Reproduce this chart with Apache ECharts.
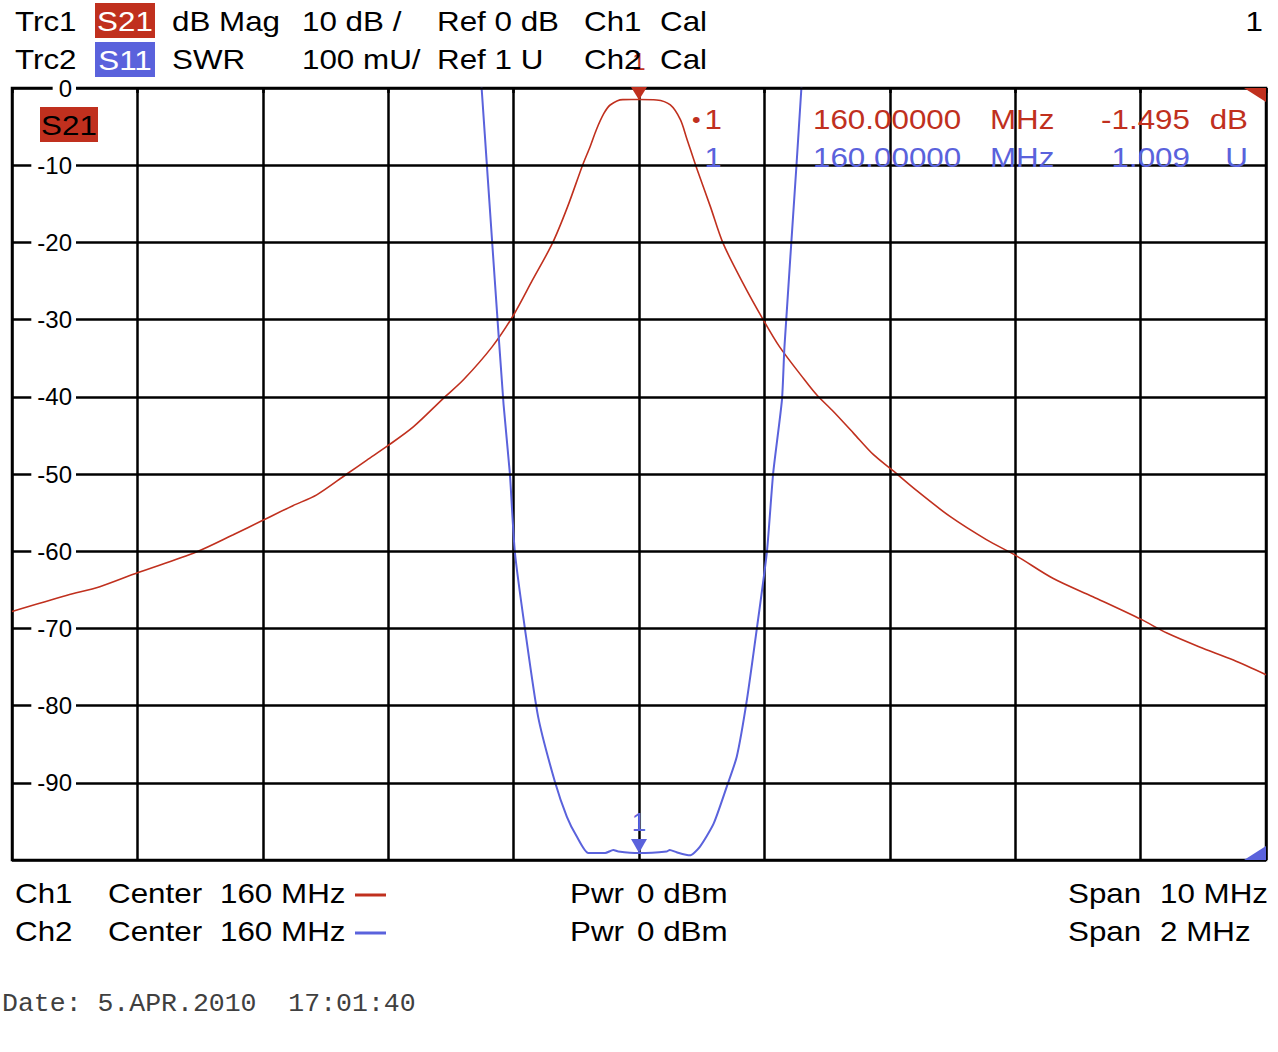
<!DOCTYPE html>
<html>
<head>
<meta charset="utf-8">
<title>S21 / S11</title>
<script src="https://cdn.jsdelivr.net/npm/echarts@6/dist/echarts.min.js"></script>
<style>
  html, body { margin: 0; padding: 0; background: #fff; }
  #container { width: 1278px; height: 1052px; }
</style>
</head>
<body>
<div id="container"></div>
<script>
// Trc1 S21 dB Mag, Ch1 center 160 MHz span 10 MHz
var s21Freq = [155.00, 155.44, 155.70, 156.00, 156.47, 156.76, 157.00, 157.24, 157.43, 157.67,
  157.83, 158.00, 158.20, 158.44, 158.60, 158.83, 159.00, 159.15, 159.31, 159.43,
  159.55, 159.61, 159.66, 159.72, 159.77, 159.87, 160.00, 160.14, 160.25, 160.33,
  160.38, 160.46, 160.57, 160.67, 160.83, 160.99, 161.12, 161.32, 161.42, 161.55,
  161.71, 161.87, 162.02, 162.21, 162.48, 162.77, 163.01, 163.30, 163.62, 164.00,
  164.21, 164.47, 164.74, 165.00];
var s21Db = [-67.8, -65.7, -64.6, -62.8, -60.1, -57.9, -56.0, -54.1, -52.7, -50.0,
  -48.2, -46.3, -43.9, -40.2, -37.8, -33.5, -29.4, -24.9, -20.1, -15.4,
  -10.0, -7.6, -5.4, -3.3, -2.2, -1.5, -1.495, -1.55, -2.2, -4.1,
  -6.5, -10.4, -15.4, -20.1, -25.3, -30.0, -33.5, -37.8, -39.8, -41.9,
  -44.7, -47.5, -49.5, -52.1, -55.5, -58.5, -60.6, -63.5, -65.9, -68.8,
  -70.6, -72.4, -74.1, -76.0];

// Trc2 S11 SWR, Ch2 center 160 MHz span 2 MHz
var s11Freq = [159.732, 159.749, 159.759, 159.770, 159.784, 159.794, 159.802, 159.818, 159.839, 159.866,
  159.885, 159.901, 159.919, 159.946, 159.959, 159.967, 160.000, 160.044, 160.049, 160.060,
  160.081, 160.097, 160.119, 160.140, 160.156, 160.172, 160.188, 160.204, 160.214, 160.228,
  160.232, 160.251, 160.259, 160.275];
var s11Swr = [2.2, 2.0, 1.881, 1.751, 1.590, 1.501, 1.399, 1.300, 1.186, 1.101,
  1.056, 1.030, 1.009, 1.009, 1.013, 1.011, 1.009, 1.011, 1.013, 1.010,
  1.006, 1.017, 1.047, 1.095, 1.134, 1.207, 1.300, 1.399, 1.501, 1.596,
  1.665, 1.898, 2.0, 2.2];

var dbTickValues = [0, -10, -20, -30, -40, -50, -60, -70, -80, -90];
var dbTickLabels = ['0', '-10', '-20', '-30', '-40', '-50', '-60', '-70', '-80', '-90'];

var RED = '#c0301e';
var BLUE = '#5a62dc';
var SANS = '"Liberation Sans", Arial, sans-serif';
var STRETCH = 1.12; // analyser font is a bit wider than Arial

function pairs(xs, ys) {
  var out = [];
  for (var i = 0; i < xs.length; i++) out.push([xs[i], ys[i]]);
  return out;
}

function txt(x, y, s, color, size, align, family, sx) {
  return {
    type: 'text', x: x, y: y, z: 10,
    scaleX: sx || STRETCH,
    style: {
      text: s, fill: color || '#000',
      font: (size || 28) + 'px ' + (family || SANS),
      textAlign: align || 'left', textVerticalAlign: 'middle'
    }
  };
}
function box(x, y, w, h, color) {
  return { type: 'rect', z: 9, shape: { x: x, y: y, width: w, height: h }, style: { fill: color } };
}

var graphics = [
  // header
  txt(15, 21, 'Trc1'), box(95, 3, 60, 35, RED), txt(125, 21, 'S21', '#fff', 28, 'center'),
  txt(172, 21, 'dB Mag'), txt(302, 21, '10 dB /'), txt(437, 21, 'Ref 0 dB'),
  txt(584, 21, 'Ch1'), txt(660, 21, 'Cal'), txt(1263, 21, '1', '#000', 28, 'right'),
  txt(15, 59, 'Trc2'), box(95, 42, 60, 35, BLUE), txt(125, 60, 'S11', '#fff', 28, 'center'),
  txt(172, 59, 'SWR'), txt(302, 59, '100 mU/'), txt(437, 59, 'Ref 1 U'),
  txt(584, 59, 'Ch2'), txt(660, 59, 'Cal'),
  // trace label in plot
  box(40, 107, 58, 35, RED), txt(69, 125, 'S21', '#000', 28, 'center'),
  // marker readout
  txt(692, 119, '\u2022', RED, 22), txt(722, 119, '1', RED, 28, 'right'),
  txt(813, 119, '160.00000', RED), txt(990, 119, 'MHz', RED),
  txt(1190, 119, '-1.495', RED, 28, 'right'), txt(1248, 119, 'dB', RED, 28, 'right'),
  txt(722, 157, '1', BLUE, 28, 'right'),
  txt(813, 157, '160.00000', BLUE), txt(990, 157, 'MHz', BLUE),
  txt(1190, 157, '1.009', BLUE, 28, 'right'), txt(1248, 157, 'U', BLUE, 28, 'right'),
  // corner flags
  { type: 'polygon', z: 9, shape: { points: [[1244, 88], [1266, 88], [1266, 102]] }, style: { fill: RED } },
  { type: 'polygon', z: 9, shape: { points: [[1244, 860], [1266, 860], [1266, 846]] }, style: { fill: BLUE } },
  // footer
  txt(15, 893, 'Ch1'), txt(108, 893, 'Center'), txt(220, 893, '160 MHz'),
  { type: 'line', z: 9, shape: { x1: 355, y1: 895, x2: 386, y2: 895 }, style: { stroke: RED, lineWidth: 3 } },
  txt(570, 893, 'Pwr'), txt(637, 893, '0 dBm'),
  txt(1068, 893, 'Span'), txt(1160, 893, '10 MHz'),
  txt(15, 931, 'Ch2'), txt(108, 931, 'Center'), txt(220, 931, '160 MHz'),
  { type: 'line', z: 9, shape: { x1: 355, y1: 933, x2: 386, y2: 933 }, style: { stroke: BLUE, lineWidth: 3 } },
  txt(570, 931, 'Pwr'), txt(637, 931, '0 dBm'),
  txt(1068, 931, 'Span'), txt(1160, 931, '2 MHz'),
  txt(2, 1004, 'Date: 5.APR.2010  17:01:40', '#404040', 26, 'left', '"Liberation Mono", monospace', 1.02)
];

var myChart = echarts.init(document.getElementById('container'), null, { renderer: 'svg' });

var option = {
  backgroundColor: '#fff',
  animation: false,
  grid: {
    left: 12, top: 88, width: 1254, height: 772,
    show: true, borderColor: '#000', borderWidth: 2.5
  },
  xAxis: [
    {
      type: 'value', min: 155, max: 165, interval: 1,
      axisLine: { show: false },
      axisTick: { show: true, length: 5, lineStyle: { color: '#000', width: 2.5 } },
      axisLabel: { show: false },
      splitLine: { show: true, lineStyle: { color: '#000', width: 2.5 } }
    },
    {
      type: 'value', min: 159, max: 161, show: false
    }
  ],
  yAxis: [
    {
      type: 'value', min: -100, max: 0, interval: 10,
      axisLine: { show: false },
      axisTick: { show: false },
      splitLine: { show: true, lineStyle: { color: '#000', width: 2.5 } },
      axisLabel: {
        inside: true, align: 'right', margin: 64,
        fontSize: 24, fontFamily: SANS, color: '#000',
        backgroundColor: '#fff', padding: [0, 4, 0, 6], lineHeight: 24,
        showMinLabel: true, showMaxLabel: true,
        formatter: function (v) {
          var i = dbTickValues.indexOf(v);
          return i < 0 ? '' : dbTickLabels[i];
        }
      },
      z: 5
    },
    {
      type: 'value', min: 1, max: 2, show: false
    }
  ],
  series: [
    {
      name: 'S21', type: 'line', xAxisIndex: 0, yAxisIndex: 0,
      data: pairs(s21Freq, s21Db),
      showSymbol: false, smooth: 0.3,
      lineStyle: { color: RED, width: 1.6 },
      z: 3,
      markPoint: {
        symbol: 'triangle', symbolRotate: 180, symbolSize: [16, 13], symbolOffset: [0, -6],
        itemStyle: { color: RED },
        label: { show: true, position: 'top', distance: 14, formatter: '1', color: RED, fontSize: 24, fontFamily: SANS },
        data: [{ coord: [160, -1.495] }]
      }
    },
    {
      name: 'S11', type: 'line', xAxisIndex: 1, yAxisIndex: 1,
      data: pairs(s11Freq, s11Swr),
      showSymbol: false, smooth: 0.2,
      lineStyle: { color: BLUE, width: 2 },
      z: 4,
      markPoint: {
        symbol: 'triangle', symbolRotate: 180, symbolSize: [16, 14], symbolOffset: [0, -7],
        itemStyle: { color: BLUE },
        label: { show: true, position: 'top', distance: 4, formatter: '1', color: BLUE, fontSize: 26, fontFamily: SANS },
        data: [{ coord: [160, 1.009] }]
      }
    }
  ],
  graphic: graphics
};
myChart.setOption(option);
</script>
</body>
</html>
